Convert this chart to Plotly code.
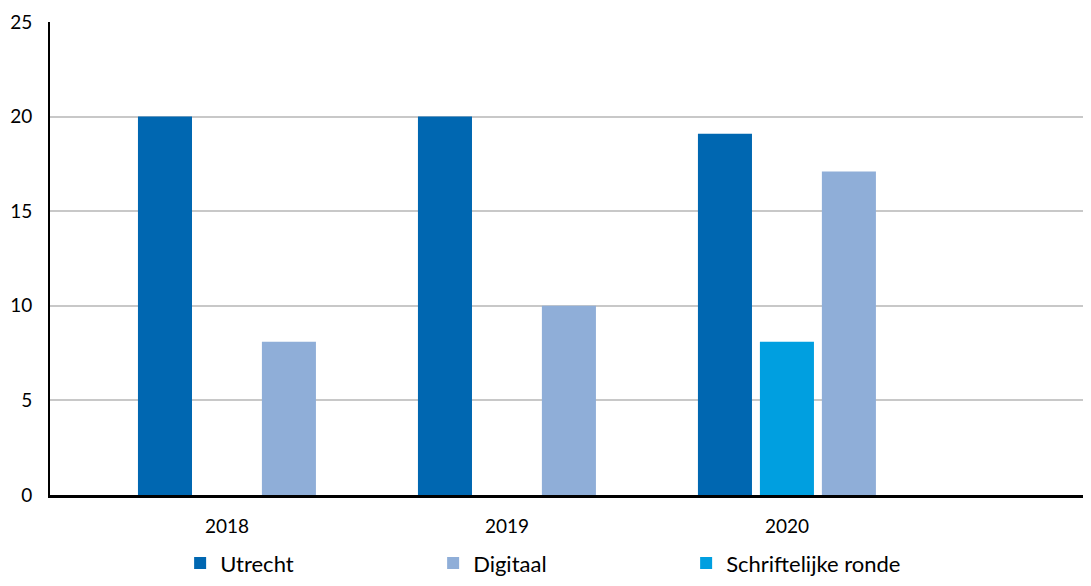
import plotly.graph_objects as go

years = ["2018", "2019", "2020"]
utrecht = [20, 20, 19.1]
schriftelijk = [None, None, 8.1]
digitaal = [8.1, 10, 17.1]

series = [
    ("Utrecht", utrecht, "#0067B1", 1),
    ("Schriftelijke ronde", schriftelijk, "#009FE0", 3),
    ("Digitaal", digitaal, "#8FAED8", 2),
]

fig = go.Figure()
for name, vals, color, rank in series:
    fig.add_trace(go.Bar(x=years, y=vals, name=name, marker_color=color,
                         marker_line_width=0, legendrank=rank))

font_family = "Lato, 'Open Sans', sans-serif"
# page body has an 8px default margin, so the figure is sized to fit the window
fig.update_layout(
    width=1083, height=578,
    margin=dict(l=42, r=0, t=14, b=91, autoexpand=False),
    plot_bgcolor="white", paper_bgcolor="white",
    barmode="group", bargap=0.336, bargroupgap=0.128,
    font=dict(family=font_family, size=19, color="#000000"),
    showlegend=True,
    legend=dict(orientation="h", x=0.125, xanchor="left", y=-0.1, yanchor="top",
                font=dict(size=22, color="#000000"), entrywidth=208,
                traceorder="normal", bgcolor="rgba(0,0,0,0)"),
)
fig.update_xaxes(type="category", range=[-0.632, 3.086], showline=True,
                 linecolor="black", linewidth=3, showgrid=False,
                 ticks="outside", ticklen=12, tickcolor="rgba(0,0,0,0)",
                 tickfont=dict(size=19))
fig.update_yaxes(range=[0, 25], tickvals=[0, 5, 10, 15, 20, 25], showline=True,
                 linecolor="black", linewidth=2, showgrid=True,
                 gridcolor="#C8C8C8", gridwidth=2, zeroline=False,
                 ticks="outside", ticklen=12, tickcolor="rgba(0,0,0,0)",
                 tickfont=dict(size=19))

fig.write_html("out.html")
